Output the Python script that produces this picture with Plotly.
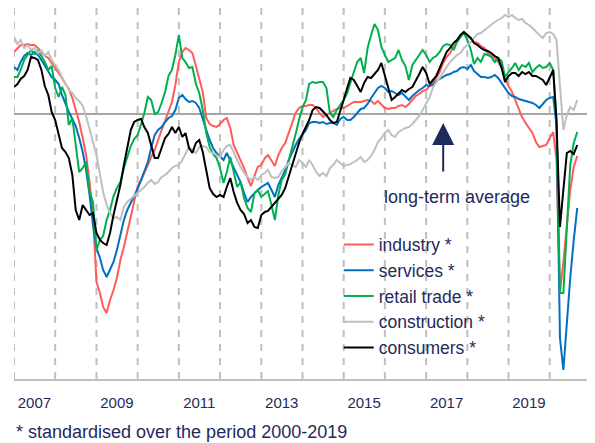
import plotly.graph_objects as go
import pandas as pd

# Monthly standardised confidence indicators, Jan 2007 - Sep 2020 (std units, 0 = long-term average)
months = pd.date_range("2007-01-01", periods=165, freq="MS")

industry = [
    1.24, 1.32, 1.38, 1.38, 1.40, 1.38, 1.38, 1.32, 1.24, 1.16, 1.12, 1.02,
    0.94, 0.82, 0.72, 0.60, 0.50, 0.32, 0.08, -0.16, -0.48, -0.82, -1.36, -2.02,
    -3.36, -3.58, -3.86, -3.98, -3.72, -3.52, -3.28, -2.92, -2.66, -2.36, -2.08, -1.72,
    -1.44, -1.32, -1.16, -1.02, -0.86, -0.72, -0.52, -0.32, -0.16, 0.04, 0.24, 0.58,
    1.04, 1.24, 1.32, 1.28, 1.22, 0.96, 0.68, 0.44, -0.08, -0.20, -0.24, -0.26,
    -0.20, -0.12, -0.08, -0.28, -0.62, -0.78, -0.92, -1.08, -1.28, -1.44, -1.24, -1.06,
    -1.02, -0.88, -0.82, -0.94, -1.04, -0.82, -0.68, -0.58, -0.38, -0.16, 0.02, 0.12,
    0.16, 0.16, 0.18, 0.18, 0.12, 0.02, -0.06, -0.02, 0.02, 0.06, 0.10, 0.12,
    0.12, 0.16, 0.20, 0.24, 0.24, 0.24, 0.26, 0.28, 0.26, 0.20, 0.26, 0.20,
    0.12, 0.10, 0.12, 0.12, 0.16, 0.18, 0.14, 0.20, 0.28, 0.36, 0.40, 0.46,
    0.48, 0.56, 0.64, 0.72, 0.84, 1.02, 1.14, 1.22, 1.34, 1.44, 1.54, 1.64,
    1.58, 1.50, 1.44, 1.42, 1.36, 1.32, 1.22, 1.18, 1.12, 1.04, 0.92, 0.72,
    0.56, 0.44, 0.28, 0.08, -0.06, -0.18, -0.28, -0.38, -0.56, -0.66, -0.64, -0.62,
    -0.48, -0.36, -0.92, -3.58, -2.96, -2.16, -1.52, -1.06, -0.84,
]

services = [
    0.94, 0.88, 1.04, 1.16, 1.22, 1.18, 1.24, 1.18, 1.08, 0.96, 0.84, 0.74,
    0.68, 0.60, 0.38, 0.20, 0.04, -0.10, -0.24, -0.48, -0.76, -1.12, -1.62, -2.22,
    -2.68, -2.88, -3.12, -3.26, -3.12, -2.96, -2.72, -2.42, -2.12, -1.92, -1.76, -1.64,
    -1.50, -1.32, -1.12, -0.96, -0.68, -0.42, -0.32, -0.26, -0.16, -0.08, -0.04, 0.08,
    0.32, 0.38, 0.30, 0.24, 0.26, 0.22, 0.12, -0.08, -0.32, -0.52, -0.68, -0.78,
    -0.86, -0.92, -0.78, -0.92, -1.06, -1.22, -1.36, -1.58, -1.76, -1.66, -1.58, -1.52,
    -1.46, -1.42, -1.38, -1.52, -1.66, -1.42, -1.28, -1.12, -0.92, -0.76, -0.62, -0.50,
    -0.40, -0.32, -0.18, -0.16, -0.16, -0.18, -0.16, -0.20, -0.18, -0.18, -0.22, -0.10,
    -0.06, -0.12, -0.12, -0.06, 0.02, 0.10, 0.12, 0.20, 0.32, 0.42, 0.52, 0.56,
    0.52, 0.44, 0.46, 0.42, 0.38, 0.42, 0.34, 0.28, 0.36, 0.42, 0.48, 0.52,
    0.58, 0.56, 0.58, 0.66, 0.70, 0.74, 0.78, 0.80, 0.84, 0.86, 0.92, 0.94,
    0.90, 0.98, 0.86, 0.80, 0.74, 0.74, 0.72, 0.74, 0.78, 0.72, 0.62, 0.50,
    0.42, 0.36, 0.34, 0.30, 0.28, 0.26, 0.24, 0.22, 0.18, 0.12, 0.20, 0.28,
    0.32, 0.34, -0.22, -4.48, -5.12, -4.16, -3.28, -2.52, -1.88,
]

retail_trade = [
    0.74, 0.74, 0.88, 1.08, 1.18, 1.28, 1.20, 1.26, 1.16, 1.04, 0.88, 0.96,
    0.52, 0.34, 0.54, 0.38, -0.22, -0.08, -0.62, -1.16, -1.08, -0.96, -1.56, -1.76,
    -2.72, -2.52, -2.44, -2.12, -1.92, -1.64, -1.48, -1.36, -1.08, -0.88, -0.64, -0.50,
    -0.42, -0.20, 0.02, 0.34, 0.28, 0.00, 0.04, 0.22, 0.44, 0.76, 0.88, 1.18,
    1.58, 1.12, 1.04, 0.92, 0.94, 0.60, 0.42, 0.08, -0.38, -0.66, -0.80, -0.88,
    -1.08, -1.38, -1.16, -0.86, -1.16, -1.46, -1.36, -1.68, -1.88, -1.96, -1.58, -1.52,
    -1.66, -1.60, -1.54, -1.82, -2.12, -1.62, -1.32, -1.20, -0.94, -0.66, -0.40, -0.12,
    0.14, 0.28, 0.60, 0.64, 0.62, 0.64, 0.64, 0.52, 0.02, -0.06, 0.08, 0.18,
    0.28, 0.42, 0.60, 0.84, 1.04, 1.12, 0.82, 1.32, 1.58, 1.80, 1.68, 1.34,
    1.18, 1.04, 1.08, 1.12, 1.28, 1.08, 0.96, 0.68, 0.98, 1.08, 1.18, 1.28,
    1.18, 1.04, 1.12, 1.16, 1.24, 1.36, 1.40, 1.38, 1.28, 1.44, 1.54, 1.62,
    1.48, 1.28, 1.00, 1.12, 1.04, 1.20, 1.18, 1.14, 1.04, 1.12, 1.06, 0.74,
    0.84, 0.92, 1.02, 0.88, 0.98, 0.94, 1.02, 0.84, 0.92, 0.98, 0.92, 0.94,
    1.02, 0.88, -0.12, -3.58, -3.58, -2.22, -1.02, -0.58, -0.36,
]

construction = [
    1.54, 1.40, 1.48, 1.32, 1.38, 1.28, 1.32, 1.22, 1.28, 1.16, 1.24, 1.08,
    0.98, 0.88, 0.74, 0.60, 0.48, 0.42, 0.32, 0.26, 0.16, -0.04, -0.28, -0.56,
    -0.82, -1.22, -1.56, -1.82, -1.98, -2.08, -2.06, -2.12, -1.86, -1.76, -1.70, -1.64,
    -1.58, -1.52, -1.46, -1.38, -1.32, -1.40, -1.36, -1.26, -1.22, -1.16, -1.08, -1.04,
    -1.02, -0.92, -0.78, -0.66, -0.72, -0.78, -0.66, -0.64, -0.66, -0.76, -0.78, -0.82,
    -0.86, -0.72, -0.64, -0.62, -0.78, -0.92, -1.06, -1.18, -1.26, -1.32, -1.26, -1.32,
    -1.22, -1.18, -1.12, -1.26, -1.28, -1.26, -1.14, -1.06, -0.98, -1.02, -1.06, -0.92,
    -0.98, -1.06, -0.92, -1.02, -1.16, -1.24, -1.18, -1.24, -1.08, -1.02, -0.92, -0.98,
    -1.04, -1.02, -1.00, -0.96, -0.92, -0.86, -0.96, -0.92, -0.84, -0.72, -0.56, -0.48,
    -0.38, -0.32, -0.42, -0.46, -0.36, -0.32, -0.28, -0.26, -0.20, -0.12, -0.04, 0.08,
    0.22, 0.34, 0.52, 0.64, 0.72, 0.84, 0.94, 1.04, 1.12, 1.18, 1.22, 1.32,
    1.38, 1.44, 1.52, 1.60, 1.62, 1.68, 1.72, 1.78, 1.84, 1.88, 1.92, 1.98,
    1.94, 1.98, 1.92, 1.88, 1.90, 1.82, 1.78, 1.72, 1.64, 1.58, 1.52, 1.62,
    1.64, 1.60, 1.48, 0.58, -0.32, -0.02, 0.14, 0.08, 0.28,
]

consumers = [
    0.54, 0.60, 0.70, 0.76, 0.88, 1.14, 1.12, 1.08, 0.88, 0.56, 0.38, 0.04,
    -0.12, -0.42, -0.68, -0.76, -0.88, -1.22, -1.92, -2.12, -1.82, -1.92, -2.02, -1.98,
    -2.38, -2.52, -2.58, -2.62, -2.38, -2.02, -1.72, -1.42, -1.02, -0.68, -0.32, -0.16,
    -0.12, -0.10, -0.26, -0.38, -0.62, -0.88, -0.88, -0.68, -0.48, -0.40, -0.26, -0.38,
    -0.26, -0.46, -0.38, -0.68, -0.78, -0.58, -0.52, -0.76, -1.16, -1.48, -1.60, -1.66,
    -1.62, -1.66, -1.46, -1.28, -1.56, -1.78, -1.92, -2.00, -2.18, -2.12, -2.26, -2.28,
    -2.02, -1.96, -1.94, -1.86, -1.80, -1.70, -1.62, -1.48, -1.24, -1.02, -0.78, -0.58,
    -0.40, -0.26, -0.12, 0.08, 0.14, 0.12, 0.06, -0.02, -0.12, -0.18, -0.16, 0.04,
    0.28, 0.52, 0.72, 0.68, 0.56, 0.44, 0.62, 0.74, 0.72, 0.80, 0.88, 1.02,
    0.76, 0.48, 0.28, 0.34, 0.42, 0.48, 0.44, 0.50, 0.54, 0.66, 0.80, 0.94,
    0.82, 0.60, 0.68, 0.76, 0.92, 1.10, 1.24, 1.32, 1.42, 1.48, 1.58, 1.64,
    1.58, 1.52, 1.42, 1.38, 1.32, 1.28, 1.26, 1.22, 1.16, 1.12, 0.92, 0.64,
    0.76, 0.82, 0.82, 0.76, 0.84, 0.80, 0.84, 0.76, 0.76, 0.72, 0.68, 0.58,
    0.72, 0.88, -0.12, -2.26, -1.52, -0.78, -0.74, -0.80, -0.62,
]

year_labels = ["2007", "2009", "2011", "2013", "2015", "2017", "2019"]

NAVY = "#1F2A5C"
FONT = "Liberation Sans, Arial, sans-serif"

series = [
    ("industry *", industry, "#FF5B5B"),
    ("services *", services, "#0070C0"),
    ("retail trade *", retail_trade, "#00B050"),
    ("construction *", construction, "#BFBFBF"),
    ("consumers *", consumers, "#000000"),
]

fig = go.Figure()
for name, vals, col in series:
    fig.add_trace(go.Scatter(x=months, y=vals, mode="lines", name=name,
                             line=dict(color=col, width=2)))

shapes = []
for yr in range(2007, 2022):
    shapes.append(dict(type="line", xref="x", yref="paper",
                       x0=f"{yr}-01-01", x1=f"{yr}-01-01", y0=0, y1=1,
                       line=dict(color="#BFBFBF", width=2, dash="7px,7px"),
                       layer="below"))
shapes.append(dict(type="line", xref="paper", yref="y", x0=0, x1=1, y0=0, y1=0,
                   line=dict(color="#A6A6A6", width=2), layer="below"))

fig.update_layout(
    width=595, height=443,
    margin=dict(l=6, r=11.5, t=0, b=72, autoexpand=False),
    paper_bgcolor="white", plot_bgcolor="white",
    font=dict(family=FONT, color=NAVY),
    shapes=shapes,
    showlegend=True,
    legend=dict(x=0.5628, y=0.411, xanchor="left", yanchor="top",
                font=dict(family=FONT, size=17.5, color=NAVY),
                bgcolor="rgba(0,0,0,0)", tracegroupgap=0),
    xaxis=dict(type="date", range=["2007-01-01", "2021-01-01"],
               showgrid=False, zeroline=False,
               showline=True, linecolor="#BFBFBF", linewidth=1.5,
               tickmode="array",
               tickvals=[f"{y}-07-01" for y in year_labels],
               ticktext=year_labels,
               ticks="outside", ticklen=9, tickcolor="rgba(0,0,0,0)",
               tickfont=dict(family=FONT, size=15, color=NAVY)),
    yaxis=dict(range=[-5.30, 2.12], visible=False),
    annotations=[
        dict(xref="x", yref="y", x="2017-06-01", y=-0.18,
             axref="x", ayref="y", ax="2017-06-01", ay=-1.18,
             text="", showarrow=True, arrowhead=2, arrowsize=2.2,
             arrowwidth=2, arrowcolor=NAVY, standoff=0),
        dict(xref="x", yref="y", x="2017-10-01", y=-1.66,
             text="long-term average", showarrow=False,
             xanchor="center", yanchor="middle",
             font=dict(family=FONT, size=18, color=NAVY)),
        dict(xref="paper", yref="paper", x=0.0, y=-0.143,
             text="* standardised over the period 2000-2019", showarrow=False,
             xanchor="left", yanchor="middle",
             font=dict(family=FONT, size=18, color=NAVY)),
    ],
)

fig.write_html("out.html")
